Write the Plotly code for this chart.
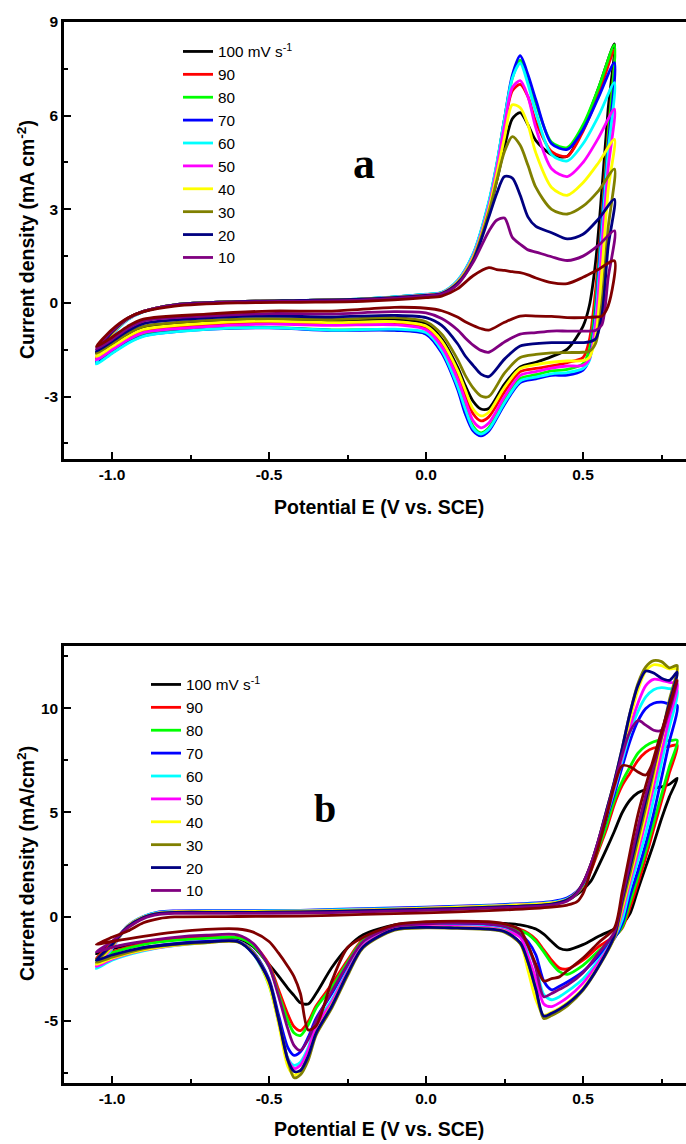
import plotly.graph_objects as go

# ------------------------------------------------------------------
# Panel (a): potential grids (V vs. SCE) for the anodic and cathodic sweeps
# ------------------------------------------------------------------
a_E_anodic = [-1.05, -1.0, -0.95, -0.9, -0.8, -0.6, -0.4, -0.2, 0.0, 0.05, 0.1, 0.15,
              0.2, 0.225, 0.25, 0.275, 0.3, 0.325, 0.35, 0.4, 0.45, 0.5, 0.55, 0.6]
a_E_cathodic = [0.58, 0.56, 0.54, 0.52, 0.5, 0.45, 0.4, 0.35, 0.3, 0.25, 0.2, 0.175,
                0.15, 0.125, 0.1, 0.05, 0.0, -0.1, -0.3, -0.5, -0.7, -0.9, -0.95, -1.0, -1.05]

# current density (mA cm-2), anodic sweep then cathodic sweep, per scan rate
a_100_an = [-1.6, -0.95, -0.5, -0.27, -0.06, 0.04, 0.08, 0.12, 0.25, 0.31, 0.66, 1.4, 2.9, 3.9, 5.0, 5.9, 6.1, 5.7, 5.2, 4.75, 4.7, 5.6, 6.9, 8.3]
a_100_ca = [6.2, 3.6, 1.3, -0.1, -0.75, -1.48, -1.72, -1.9, -2.05, -2.6, -3.38, -3.4, -3.15, -2.65, -2.05, -1.15, -0.66, -0.52, -0.58, -0.54, -0.6, -0.78, -1.0, -1.32, -1.6]
a_90_an = [-1.76, -1.0, -0.52, -0.27, -0.06, 0.04, 0.08, 0.12, 0.26, 0.32, 0.68, 1.5, 3.1, 4.3, 5.7, 6.8, 7.0, 6.6, 5.8, 4.85, 4.7, 5.5, 6.7, 8.1]
a_90_ca = [5.5, 2.8, 0.4, -1.2, -1.75, -1.91, -2.02, -2.1, -2.2, -2.85, -3.65, -3.78, -3.55, -2.95, -2.3, -1.3, -0.8, -0.65, -0.68, -0.62, -0.7, -0.9, -1.12, -1.45, -1.76]
a_80_an = [-1.88, -1.02, -0.53, -0.28, -0.06, 0.04, 0.08, 0.13, 0.27, 0.33, 0.7, 1.55, 3.2, 4.4, 5.9, 7.2, 7.78, 7.2, 6.4, 5.15, 4.98, 5.7, 6.9, 8.27]
a_80_ca = [5.3, 2.6, 0.0, -1.5, -1.95, -2.13, -2.18, -2.3, -2.42, -3.1, -4.0, -4.16, -3.95, -3.3, -2.6, -1.5, -0.98, -0.86, -0.86, -0.78, -0.83, -1.02, -1.25, -1.56, -1.88]
a_70_an = [-1.92, -1.03, -0.53, -0.28, -0.06, 0.04, 0.08, 0.13, 0.27, 0.33, 0.7, 1.55, 3.2, 4.4, 5.9, 7.3, 7.92, 7.3, 6.5, 5.1, 4.92, 5.55, 6.6, 7.7]
a_70_ca = [5.0, 2.5, -0.3, -1.8, -2.15, -2.31, -2.32, -2.43, -2.55, -3.25, -4.1, -4.26, -4.1, -3.55, -2.75, -1.6, -1.0, -0.88, -0.88, -0.8, -0.85, -1.06, -1.28, -1.6, -1.92]
a_60_an = [-1.96, -1.05, -0.54, -0.28, -0.06, 0.04, 0.08, 0.13, 0.28, 0.34, 0.72, 1.58, 3.25, 4.45, 5.9, 7.2, 7.68, 7.0, 6.1, 4.75, 4.55, 5.1, 6.0, 7.06]
a_60_ca = [4.8, 2.2, -0.5, -1.85, -2.1, -2.23, -2.27, -2.38, -2.5, -3.2, -4.05, -4.2, -4.02, -3.4, -2.65, -1.52, -0.95, -0.84, -0.87, -0.79, -0.85, -1.07, -1.3, -1.62, -1.96]
a_50_an = [-1.83, -1.0, -0.52, -0.27, -0.06, 0.04, 0.08, 0.12, 0.26, 0.32, 0.68, 1.5, 3.1, 4.3, 5.7, 6.9, 7.12, 6.6, 5.6, 4.3, 4.05, 4.5, 5.3, 6.21]
a_50_ca = [4.3, 1.8, -0.7, -1.8, -2.0, -2.02, -2.09, -2.2, -2.32, -3.0, -3.85, -4.0, -3.78, -3.12, -2.42, -1.4, -0.86, -0.7, -0.72, -0.68, -0.76, -0.95, -1.18, -1.5, -1.83]
a_40_an = [-1.72, -0.98, -0.51, -0.27, -0.06, 0.04, 0.08, 0.12, 0.25, 0.31, 0.66, 1.45, 3.0, 4.1, 5.3, 6.35, 6.25, 5.7, 4.8, 3.7, 3.45, 3.85, 4.5, 5.24]
a_40_ca = [3.6, 1.0, -1.1, -1.75, -1.85, -1.86, -1.9, -1.98, -2.1, -2.7, -3.5, -3.62, -3.4, -2.78, -2.15, -1.22, -0.74, -0.6, -0.63, -0.58, -0.65, -0.85, -1.08, -1.4, -1.72]
a_30_an = [-1.62, -0.96, -0.5, -0.27, -0.06, 0.04, 0.08, 0.12, 0.24, 0.3, 0.64, 1.4, 2.9, 3.9, 4.85, 5.33, 5.05, 4.4, 3.7, 3.0, 2.85, 3.1, 3.6, 4.29]
a_30_ca = [2.4, 0.0, -1.3, -1.55, -1.58, -1.59, -1.6, -1.65, -1.75, -2.25, -3.0, -2.98, -2.72, -2.32, -1.8, -1.0, -0.6, -0.47, -0.53, -0.5, -0.56, -0.75, -0.98, -1.3, -1.62]
a_20_an = [-1.55, -0.93, -0.5, -0.27, -0.06, 0.04, 0.08, 0.12, 0.24, 0.3, 0.62, 1.35, 2.75, 3.5, 4.05, 4.0, 3.45, 2.75, 2.45, 2.25, 2.05, 2.2, 2.7, 3.32]
a_20_ca = [1.8, -0.4, -1.15, -1.25, -1.27, -1.27, -1.27, -1.3, -1.38, -1.8, -2.36, -2.28, -2.0, -1.7, -1.3, -0.72, -0.47, -0.4, -0.45, -0.42, -0.48, -0.66, -0.9, -1.24, -1.55]
a_10_an = [-1.48, -0.9, -0.49, -0.27, -0.07, 0.03, 0.06, 0.1, 0.22, 0.28, 0.58, 1.3, 2.3, 2.65, 2.72, 2.1, 1.88, 1.7, 1.63, 1.48, 1.36, 1.5, 1.85, 2.31]
a_10_ca = [0.8, -0.7, -0.88, -0.9, -0.9, -0.9, -0.9, -0.95, -1.0, -1.25, -1.58, -1.52, -1.35, -1.12, -0.86, -0.5, -0.32, -0.28, -0.35, -0.34, -0.42, -0.58, -0.82, -1.17, -1.48]
a_slow_an = [-1.4, -0.85, -0.48, -0.28, -0.1, 0.0, 0.02, 0.05, 0.17, 0.22, 0.45, 0.87, 1.13, 1.07, 1.04, 1.0, 0.97, 0.9, 0.8, 0.65, 0.62, 0.82, 1.08, 1.35]
a_slow_ca = [-0.1, -0.42, -0.45, -0.46, -0.47, -0.47, -0.43, -0.42, -0.42, -0.62, -0.87, -0.82, -0.72, -0.6, -0.45, -0.25, -0.17, -0.14, -0.26, -0.26, -0.36, -0.52, -0.75, -1.1, -1.4]

# ------------------------------------------------------------------
# Panel (b)
# ------------------------------------------------------------------
b_E_anodic = [-1.05, -1.0, -0.95, -0.9, -0.85, -0.8, -0.6, -0.4, -0.2, 0.0, 0.2, 0.4, 0.45, 0.48,
              0.5, 0.525, 0.55, 0.575, 0.6, 0.625, 0.65, 0.675, 0.7, 0.725, 0.75, 0.775, 0.8]
b_E_cathodic = [0.775, 0.75, 0.725, 0.7, 0.675, 0.65, 0.625, 0.6, 0.55, 0.5, 0.45, 0.425, 0.4,
                0.375, 0.35, 0.325, 0.3, 0.25, 0.2, 0.1, 0.0, -0.1, -0.2, -0.25, -0.3, -0.35,
                -0.375, -0.4, -0.42, -0.44, -0.47, -0.5, -0.55, -0.6, -0.7, -0.8, -0.9, -1.0, -1.05]

b_100_an = [-1.8, -1.25, -0.5, -0.05, 0.15, 0.2, 0.2, 0.22, 0.28, 0.35, 0.45, 0.6, 0.78, 1.05, 1.3, 1.7, 2.45, 3.25, 4.1, 5.0, 5.6, 5.95, 6.1, 6.18, 6.23, 6.35, 6.64]
b_100_ca = [5.75, 4.7, 3.5, 2.4, 1.3, 0.15, -0.35, -0.6, -0.95, -1.35, -1.6, -1.52, -1.2, -0.85, -0.6, -0.48, -0.4, -0.33, -0.3, -0.27, -0.28, -0.4, -0.88, -1.5, -2.45, -3.7, -4.2, -4.15, -3.8, -3.45, -2.85, -2.3, -1.45, -1.05, -1.0, -1.05, -1.25, -1.55, -1.8]
b_90_an = [-2.0, -1.3, -0.5, -0.05, 0.15, 0.2, 0.2, 0.22, 0.28, 0.35, 0.45, 0.6, 0.78, 1.1, 1.45, 2.2, 3.2, 4.2, 5.4, 6.3, 6.9, 7.5, 7.9, 8.1, 8.15, 8.18, 8.23]
b_90_ca = [6.9, 5.55, 4.2, 2.85, 1.6, 0.45, -0.55, -0.95, -1.45, -2.1, -2.52, -2.48, -2.1, -1.6, -1.1, -0.8, -0.62, -0.42, -0.35, -0.32, -0.33, -0.45, -1.1, -2.1, -3.25, -4.3, -5.05, -5.48, -5.3, -4.7, -3.5, -2.3, -1.35, -1.0, -1.02, -1.1, -1.3, -1.7, -2.0]
b_80_an = [-2.1, -1.35, -0.5, -0.05, 0.15, 0.2, 0.2, 0.22, 0.28, 0.35, 0.45, 0.6, 0.78, 1.1, 1.5, 2.3, 3.3, 4.4, 5.6, 6.5, 7.2, 7.85, 8.2, 8.4, 8.47, 8.45, 8.47]
b_80_ca = [7.2, 5.85, 4.5, 3.15, 1.9, 0.7, -0.5, -1.0, -1.65, -2.35, -2.78, -2.65, -2.25, -1.7, -1.2, -0.85, -0.68, -0.45, -0.37, -0.34, -0.35, -0.47, -1.15, -2.2, -3.4, -4.4, -5.2, -5.72, -5.6, -5.0, -3.7, -2.4, -1.4, -1.02, -1.05, -1.15, -1.35, -1.75, -2.1]
b_70_an = [-2.3, -1.4, -0.45, 0.0, 0.22, 0.27, 0.28, 0.3, 0.38, 0.45, 0.55, 0.72, 0.9, 1.2, 1.55, 2.4, 3.5, 4.7, 5.9, 7.2, 8.45, 9.4, 10.0, 10.25, 10.3, 10.22, 10.14]
b_70_ca = [8.4, 6.65, 4.95, 3.5, 2.2, 1.0, -0.35, -1.05, -1.9, -2.65, -3.15, -3.35, -3.52, -3.1, -1.85, -1.2, -0.85, -0.55, -0.45, -0.4, -0.4, -0.52, -1.25, -2.4, -3.7, -4.9, -5.8, -6.5, -6.67, -6.3, -4.7, -3.0, -1.7, -1.18, -1.2, -1.3, -1.5, -1.95, -2.3]
b_60_an = [-2.5, -1.55, -0.45, 0.0, 0.2, 0.25, 0.26, 0.28, 0.35, 0.42, 0.52, 0.68, 0.85, 1.15, 1.55, 2.45, 3.55, 4.8, 6.1, 7.5, 8.85, 9.85, 10.55, 10.9, 11.0, 10.95, 10.86]
b_60_ca = [9.1, 7.4, 5.65, 4.0, 2.7, 1.4, -0.14, -1.0, -2.1, -3.0, -3.6, -3.85, -4.0, -3.75, -2.4, -1.6, -0.95, -0.6, -0.5, -0.45, -0.45, -0.56, -1.35, -2.6, -4.0, -5.2, -6.3, -7.0, -7.15, -6.8, -5.0, -3.3, -1.8, -1.2, -1.26, -1.4, -1.65, -2.1, -2.5]
b_50_an = [-2.4, -1.5, -0.47, -0.03, 0.18, 0.23, 0.24, 0.26, 0.32, 0.4, 0.5, 0.65, 0.82, 1.15, 1.6, 2.5, 3.6, 4.9, 6.2, 7.7, 9.1, 10.25, 11.1, 11.4, 11.35, 11.25, 11.18]
b_50_ca = [9.55, 7.9, 6.25, 4.6, 3.1, 1.7, 0.2, -1.0, -2.2, -3.2, -3.9, -4.15, -4.33, -4.2, -3.0, -1.9, -1.0, -0.65, -0.53, -0.48, -0.47, -0.58, -1.38, -2.65, -4.1, -5.3, -6.4, -7.15, -7.3, -6.85, -5.0, -3.2, -1.75, -1.2, -1.25, -1.38, -1.62, -2.05, -2.4]
b_40_an = [-2.3, -1.45, -0.47, -0.03, 0.18, 0.23, 0.24, 0.26, 0.32, 0.4, 0.5, 0.65, 0.82, 1.15, 1.6, 2.5, 3.65, 5.0, 6.35, 7.9, 9.5, 10.9, 11.8, 12.1, 12.05, 11.9, 11.9]
b_40_ca = [10.2, 8.45, 6.7, 4.95, 3.4, 1.9, 0.4, -1.0, -2.35, -3.45, -4.15, -4.4, -4.6, -4.75, -4.0, -2.6, -1.3, -0.7, -0.58, -0.53, -0.52, -0.62, -1.45, -2.75, -4.25, -5.6, -6.7, -7.4, -7.62, -7.2, -5.1, -3.3, -1.75, -1.22, -1.26, -1.38, -1.6, -2.0, -2.3]
b_30_an = [-2.2, -1.4, -0.5, -0.05, 0.15, 0.2, 0.2, 0.22, 0.28, 0.35, 0.45, 0.6, 0.8, 1.15, 1.6, 2.5, 3.7, 5.1, 6.5, 8.1, 9.8, 11.2, 12.0, 12.3, 12.25, 11.95, 12.06]
b_30_ca = [10.4, 8.7, 7.0, 5.28, 3.7, 2.1, 0.6, -1.0, -2.42, -3.55, -4.3, -4.55, -4.75, -4.9, -3.5, -2.2, -1.3, -0.75, -0.62, -0.57, -0.55, -0.65, -1.5, -2.85, -4.4, -5.7, -6.9, -7.6, -7.75, -6.9, -4.9, -3.1, -1.75, -1.22, -1.25, -1.35, -1.55, -1.95, -2.2]
b_20_an = [-2.1, -1.35, -0.5, -0.05, 0.15, 0.2, 0.2, 0.22, 0.28, 0.35, 0.45, 0.6, 0.8, 1.15, 1.6, 2.5, 3.7, 5.1, 6.5, 8.1, 9.8, 11.1, 11.8, 11.7, 11.45, 11.35, 11.74]
b_20_ca = [10.25, 8.75, 7.2, 5.6, 4.0, 2.4, 0.8, -0.9, -2.38, -3.5, -4.2, -4.45, -4.65, -4.78, -3.5, -2.2, -1.25, -0.72, -0.6, -0.55, -0.52, -0.62, -1.45, -2.75, -4.3, -5.6, -6.7, -7.4, -7.45, -6.9, -4.9, -3.1, -1.8, -1.2, -1.22, -1.32, -1.5, -1.85, -2.1]
b_10_an = [-1.7, -1.2, -0.55, -0.1, 0.1, 0.15, 0.15, 0.17, 0.22, 0.3, 0.4, 0.55, 0.75, 1.1, 1.6, 2.5, 3.7, 5.0, 6.4, 7.8, 8.9, 9.42, 9.2, 8.95, 8.95, 9.9, 11.3]
b_10_ca = [9.95, 8.6, 7.2, 5.85, 4.3, 2.6, 0.9, -0.75, -1.75, -2.7, -3.3, -3.5, -3.7, -3.85, -2.5, -1.4, -0.85, -0.48, -0.36, -0.32, -0.35, -0.48, -1.2, -2.3, -3.6, -5.0, -5.9, -6.43, -6.2, -5.4, -3.8, -2.4, -1.3, -0.88, -0.9, -1.0, -1.2, -1.48, -1.7]
b_slow_an = [-1.34, -1.0, -0.7, -0.3, -0.1, -0.02, 0.0, 0.02, 0.1, 0.18, 0.28, 0.45, 0.55, 0.7, 1.1, 2.2, 3.4, 4.8, 6.3, 7.25, 7.2, 6.95, 6.8, 7.5, 8.8, 10.1, 11.4]
b_slow_ca = [10.1, 8.9, 7.6, 6.3, 4.9, 3.1, 1.2, -0.55, -1.25, -2.0, -2.6, -2.9, -2.98, -3.1, -2.3, -1.4, -0.65, -0.35, -0.25, -0.22, -0.25, -0.4, -1.0, -1.5, -3.1, -5.25, -5.45, -3.7, -2.9, -2.4, -1.75, -1.2, -0.75, -0.6, -0.62, -0.75, -0.95, -1.2, -1.34]

# legend labels and colours (last curve has no legend entry)
scan_labels = ["100 mV s<sup>-1</sup>", "90", "80", "70", "60", "50", "40", "30", "20", "10", None]
line_colors = ["#000000", "#FF0000", "#00FF00", "#0000FF", "#00FFFF", "#FF00FF",
               "#FFFF00", "#808000", "#000080", "#800080", "#800000"]

x_ticks = [-1.0, -0.5, 0.0, 0.5]
x_ticktext = ["-1.0", "-0.5", "0.0", "0.5"]
x_minor_ticks = [-0.75, -0.25, 0.25, 0.75]
a_y_ticks = [-3, 0, 3, 6, 9]
a_y_ticktext = ["-3", "0", "3", "6", "9"]
a_y_minor = [-4.5, -1.5, 1.5, 4.5, 7.5]
b_y_ticks = [-5, 0, 5, 10]
b_y_ticktext = ["-5", "0", "5", "10"]
b_y_minor = [-7.5, -2.5, 2.5, 7.5, 12.5]

x_title = "Potential E (V vs. SCE)"
a_y_title = "Current density (mA cm<sup>-2</sup>)"
b_y_title = "Current density (mA/cm<sup>2</sup>)"

a_curves = [(a_100_an, a_100_ca), (a_90_an, a_90_ca), (a_80_an, a_80_ca), (a_70_an, a_70_ca),
            (a_60_an, a_60_ca), (a_50_an, a_50_ca), (a_40_an, a_40_ca), (a_30_an, a_30_ca),
            (a_20_an, a_20_ca), (a_10_an, a_10_ca), (a_slow_an, a_slow_ca)]
b_curves = [(b_100_an, b_100_ca), (b_90_an, b_90_ca), (b_80_an, b_80_ca), (b_70_an, b_70_ca),
            (b_60_an, b_60_ca), (b_50_an, b_50_ca), (b_40_an, b_40_ca), (b_30_an, b_30_ca),
            (b_20_an, b_20_ca), (b_10_an, b_10_ca), (b_slow_an, b_slow_ca)]

for i, (an, ca) in enumerate(a_curves):
    if len(an) != len(a_E_anodic) or len(ca) != len(a_E_cathodic):
        raise ValueError(f"panel a curve {i}: {len(an)} {len(ca)}")
for i, (an, ca) in enumerate(b_curves):
    if len(an) != len(b_E_anodic) or len(ca) != len(b_E_cathodic):
        raise ValueError(f"panel b curve {i}: {len(an)} {len(ca)}")

W, H = 686, 1144
fig = go.Figure()

def add_panel(curves, e_an, e_ca, xa, ya, leg):
    for label, color, (an, ca) in zip(scan_labels, line_colors, curves):
        fig.add_trace(go.Scatter(
            x=e_an + e_ca, y=an + ca, mode="lines",
            line=dict(color=color, width=2.8, shape="spline", smoothing=0.8),
            name=label if label else "5", showlegend=label is not None,
            xaxis=xa, yaxis=ya, legend=leg, hoverinfo="skip"))

add_panel(a_curves, a_E_anodic, a_E_cathodic, "x", "y", "legend")
add_panel(b_curves, b_E_anodic, b_E_cathodic, "x2", "y2", "legend2")

tickfont = dict(family="Liberation Sans", size=15.5, color="black", weight="bold")
titlefont = dict(family="Liberation Sans", size=19.5, color="black", weight="bold")
x_left = 64 / W
x_range = [(64 - 426) / 314, (W - 426) / 314]

def xaxis_cfg(anchor):
    return dict(domain=[x_left, 1.0], range=x_range, anchor=anchor, automargin=False,
                showline=True, linecolor="black", linewidth=2.5, mirror=True,
                ticks="inside", ticklen=7, tickwidth=2, tickcolor="black",
                tickmode="array", tickvals=x_ticks, ticktext=x_ticktext,
                minor=dict(ticks="inside", ticklen=4, tickwidth=2, tickcolor="black",
                           tickmode="array", tickvals=x_minor_ticks),
                showgrid=False, zeroline=False, tickfont=tickfont)

def yaxis_cfg(anchor, dom, rng, tv, tt, mv):
    return dict(domain=dom, range=rng, anchor=anchor, automargin=False,
                showline=True, linecolor="black", linewidth=2.5, mirror=False,
                ticks="inside", ticklen=7, tickwidth=2, tickcolor="black",
                tickmode="array", tickvals=tv, ticktext=tt,
                minor=dict(ticks="inside", ticklen=4, tickwidth=2, tickcolor="black",
                           tickmode="array", tickvals=mv),
                showgrid=False, zeroline=False, tickfont=tickfont)

legfont = dict(family="Liberation Sans", size=15.3, color="black")

def ann(text, cx, cy, font, angle=0):
    return dict(text=text, x=cx / W, y=1 - cy / H, xref="paper", yref="paper",
                showarrow=False, xanchor="center", yanchor="middle",
                textangle=angle, font=font)

fig.update_layout(
    width=W, height=H, margin=dict(l=0, r=0, t=0, b=0, autoexpand=False),
    paper_bgcolor="white", plot_bgcolor="white",
    xaxis=xaxis_cfg("y"),
    yaxis=yaxis_cfg("x", [1 - 459 / H, 1 - 22 / H], [-5, 9.001], a_y_ticks, a_y_ticktext, a_y_minor),
    xaxis2=xaxis_cfg("y2"),
    yaxis2=yaxis_cfg("x2", [1 - 1083 / H, 1 - 646 / H], [-8, 13], b_y_ticks, b_y_ticktext, b_y_minor),
    legend=dict(x=178 / W, y=1 - 35 / H, xanchor="left", yanchor="top",
                bgcolor="rgba(0,0,0,0)", font=legfont, tracegroupgap=0),
    legend2=dict(x=146 / W, y=1 - 668 / H, xanchor="left", yanchor="top",
                 bgcolor="rgba(0,0,0,0)", font=legfont, tracegroupgap=0),
    annotations=[
        ann(x_title, 379, 507, titlefont),
        ann(x_title, 379, 1129, titlefont),
        ann(a_y_title, 26, 240, titlefont, -90),
        ann(b_y_title, 26, 864, titlefont, -90),
        ann("a", 364, 163, dict(family="Liberation Serif", size=44, color="black", weight="bold")),
        ann("b", 325, 808, dict(family="Liberation Serif", size=40, color="black", weight="bold")),
    ],
)

fig.write_html("out.html")
